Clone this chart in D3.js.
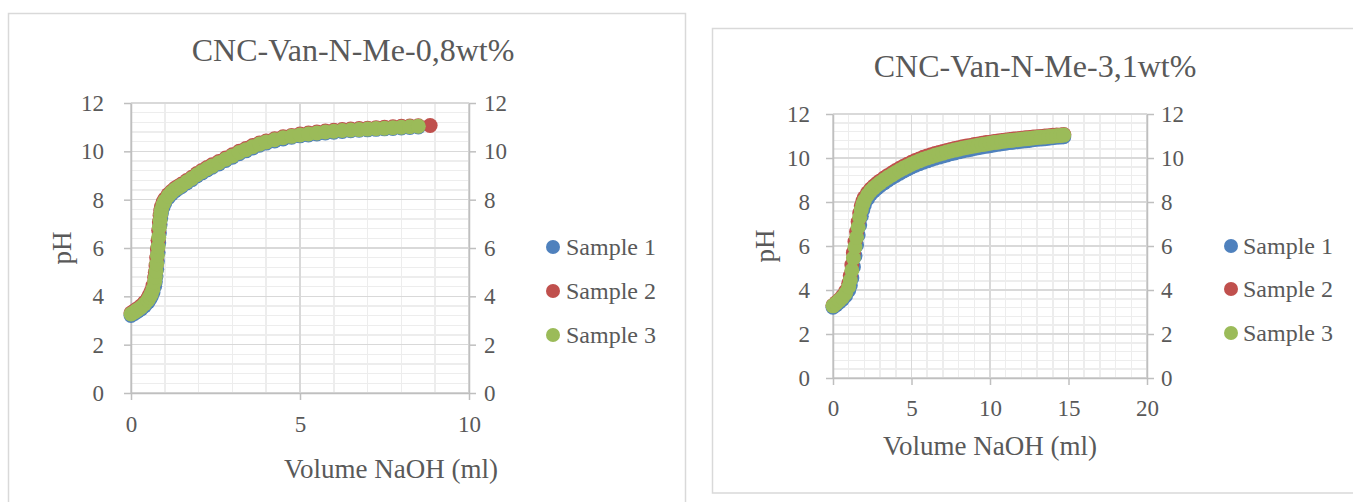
<!DOCTYPE html>
<html>
<head>
<meta charset="utf-8">
<script src="https://cdn.jsdelivr.net/npm/d3@7"></script>
<style>
  body { margin: 0; background: #fff; }
  svg { display: block; }
  text { font-family: "Liberation Serif", serif; fill: #595959; }
</style>
</head>
<body>
<svg id="chart" width="1353" height="502"></svg>
<script>
// Shared series info
const seriesNames = ["Sample 1", "Sample 2", "Sample 3"];
const seriesColors = ["#4f81bd", "#c0504d", "#9bbb59"];
const phTicks = [0, 2, 4, 6, 8, 10, 12];

// Titration 1: CNC-Van-N-Me-0,8wt%
const titleA = "CNC-Van-N-Me-0,8wt%";
const volTicksA = [0, 5, 10];
const volumeA = [0, 0.1, 0.2, 0.3, 0.4, 0.5, 0.55, 0.6, 0.65, 0.7,
  0.72, 0.74, 0.76, 0.78, 0.8, 0.82, 0.84, 0.86, 0.88, 0.9,
  0.95, 1.0, 1.1, 1.2, 1.3, 1.4, 1.5, 1.65, 1.8, 1.95,
  2.1, 2.25, 2.4, 2.6, 2.8, 3.0, 3.2, 3.4, 3.6, 3.8,
  4.0, 4.25, 4.5, 4.75, 5.0, 5.25, 5.5, 5.75, 6.0, 6.25,
  6.5, 6.75, 7.0, 7.25, 7.5, 7.75, 8.0, 8.25, 8.5, 8.85];
const phA1 = [3.21, 3.29, 3.38, 3.48, 3.6, 3.76, 3.87, 3.99, 4.16, 4.42,
  4.6, 4.84, 5.12, 5.46, 5.82, 6.22, 6.62, 6.96, 7.24, 7.45,
  7.7, 7.87, 8.08, 8.24, 8.36, 8.46, 8.55, 8.69, 8.83, 8.98,
  9.11, 9.23, 9.34, 9.48, 9.62, 9.76, 9.9, 10.02, 10.14, 10.25,
  10.34, 10.43, 10.51, 10.58, 10.64, 10.68, 10.72, 10.76, 10.79, 10.82,
  10.85, 10.87, 10.89, 10.91, 10.93, 10.95, 10.97, 10.99, 11.01];
const phA2 = [3.31, 3.4, 3.5, 3.61, 3.75, 3.93, 4.06, 4.22, 4.45, 4.78,
  5.0, 5.27, 5.6, 5.96, 6.32, 6.72, 7.08, 7.34, 7.55, 7.7,
  7.9, 8.03, 8.21, 8.35, 8.47, 8.56, 8.65, 8.79, 8.93, 9.08,
  9.21, 9.33, 9.44, 9.58, 9.72, 9.86, 10.0, 10.12, 10.24, 10.34,
  10.43, 10.52, 10.6, 10.66, 10.72, 10.76, 10.8, 10.84, 10.87, 10.9,
  10.92, 10.94, 10.96, 10.98, 11.0, 11.02, 11.04, 11.05, 11.06, 11.07];
const phA3 = [3.27, 3.35, 3.45, 3.55, 3.68, 3.85, 3.97, 4.1, 4.3, 4.6,
  4.8, 5.05, 5.35, 5.7, 6.05, 6.45, 6.85, 7.15, 7.4, 7.58,
  7.8, 7.95, 8.15, 8.3, 8.42, 8.51, 8.6, 8.74, 8.88, 9.03,
  9.16, 9.28, 9.39, 9.53, 9.67, 9.81, 9.95, 10.07, 10.19, 10.3,
  10.39, 10.48, 10.56, 10.62, 10.68, 10.72, 10.76, 10.8, 10.83, 10.86,
  10.88, 10.9, 10.92, 10.94, 10.96, 10.98, 11.0, 11.02, 11.04];

// Titration 2: CNC-Van-N-Me-3,1wt%
const titleB = "CNC-Van-N-Me-3,1wt%";
const volTicksB = [0, 5, 10, 15, 20];
const volumeB = [0, 0.2, 0.4, 0.6, 0.8, 1.0, 1.1, 1.2, 1.3, 1.4, 1.5, 1.6, 1.7, 1.8, 1.9, 2.0, 2.2, 2.4, 2.6, 2.8, 3.0,
  3.25, 3.5, 3.75, 4.0, 4.25, 4.5, 4.75, 5.0, 5.25, 5.5, 5.75, 6.0, 6.25, 6.5, 6.75, 7.0, 7.25, 7.5, 7.75, 8.0,
  8.25, 8.5, 8.75, 9.0, 9.25, 9.5, 9.75, 10.0, 10.25, 10.5, 10.75, 11.0, 11.25, 11.5, 11.75, 12.0, 12.25, 12.5, 12.75,
  13.0, 13.25, 13.5, 13.75, 14.0, 14.25, 14.5, 14.7];
const phB1 = [3.22, 3.32, 3.44, 3.57, 3.74, 3.98, 4.2, 4.55, 5.05, 5.55, 6.05, 6.5, 6.95, 7.35, 7.65, 7.88, 8.15, 8.35, 8.5, 8.63, 8.74,
  8.87, 8.99, 9.1, 9.21, 9.31, 9.41, 9.5, 9.59, 9.67, 9.74, 9.81, 9.87, 9.93, 9.99, 10.04, 10.09, 10.14, 10.19, 10.23, 10.28,
  10.32, 10.36, 10.39, 10.43, 10.47, 10.5, 10.53, 10.56, 10.59, 10.62, 10.65, 10.67, 10.7, 10.72, 10.74, 10.76, 10.78, 10.8, 10.83,
  10.85, 10.86, 10.88, 10.9, 10.92, 10.94, 10.95, 10.97];
const phB2 = [3.3, 3.43, 3.56, 3.72, 3.94, 4.3, 4.65, 5.15, 5.7, 6.2, 6.65, 7.1, 7.5, 7.82, 8.04, 8.2, 8.42, 8.59, 8.73, 8.85, 8.96,
  9.09, 9.21, 9.32, 9.43, 9.53, 9.63, 9.72, 9.81, 9.89, 9.96, 10.03, 10.09, 10.15, 10.2, 10.25, 10.3, 10.34, 10.39, 10.43, 10.47,
  10.51, 10.54, 10.57, 10.61, 10.64, 10.67, 10.7, 10.72, 10.75, 10.77, 10.8, 10.82, 10.84, 10.86, 10.88, 10.9, 10.92, 10.93, 10.95,
  10.97, 10.98, 11.0, 11.01, 11.03, 11.04, 11.05, 11.07];
const phB3 = [3.28, 3.4, 3.52, 3.66, 3.85, 4.15, 4.45, 4.9, 5.45, 5.95, 6.4, 6.85, 7.3, 7.65, 7.9, 8.08, 8.32, 8.5, 8.64, 8.76, 8.87,
  9.0, 9.12, 9.23, 9.34, 9.44, 9.54, 9.63, 9.72, 9.8, 9.87, 9.94, 10.0, 10.06, 10.12, 10.17, 10.22, 10.27, 10.32, 10.36, 10.4,
  10.44, 10.48, 10.51, 10.55, 10.58, 10.61, 10.64, 10.67, 10.7, 10.72, 10.75, 10.77, 10.79, 10.81, 10.83, 10.85, 10.87, 10.89, 10.91,
  10.93, 10.94, 10.96, 10.98, 10.99, 11.01, 11.02, 11.04];

const svg = d3.select("#chart");

const panels = [
  {
    title: titleA, volume: volumeA, series: [phA1, phA2, phA3], volTicks: volTicksA, xMax: 10,
    box: { x: 8.5, y: 13.5, w: 677, h: 520 },
    plot: { l: 131, r: 469, t: 103, b: 393 },
    titleX: 353, titleY: 61, yTitleX: 71, xTitleX: 391, xTitleY: 478,
    leftPad: 20, rightPad: 8, bottomPad: 16,
    legend: { mx: 553, tx: 566, ys: [247, 291, 335] }
  },
  {
    title: titleB, volume: volumeB, series: [phB1, phB2, phB3], volTicks: volTicksB, xMax: 20,
    box: { x: 712.5, y: 28.5, w: 660, h: 464.5 },
    plot: { l: 833, r: 1147, t: 114, b: 378 },
    titleX: 1035, titleY: 77, yTitleX: 774, xTitleX: 990, xTitleY: 455,
    leftPad: 16, rightPad: 7, bottomPad: 15,
    legend: { mx: 1231, tx: 1243, ys: [246, 289, 333] }
  }
];

panels.forEach(p => {
  const g = svg.append("g");
  const { l, r, t, b } = p.plot;

  // chart frame
  g.append("rect")
    .attr("x", p.box.x).attr("y", p.box.y)
    .attr("width", p.box.w).attr("height", p.box.h)
    .attr("fill", "#fff").attr("stroke", "#d9d9d9").attr("stroke-width", 1.5);

  const x = d3.scaleLinear().domain([0, p.xMax]).range([l, r]);
  const y = d3.scaleLinear().domain([0, 12]).range([b, t]);

  // minor gridlines
  const grid = g.append("g").attr("shape-rendering", "crispEdges");
  grid.selectAll(".vminor").data(d3.range(1, p.xMax, 1))
    .join("line")
    .attr("x1", d => x(d)).attr("x2", d => x(d))
    .attr("y1", t).attr("y2", b)
    .attr("stroke", "#ededed").attr("stroke-width", 1.5);
  grid.selectAll(".hminor").data(d3.range(0.4, 12, 0.4))
    .join("line")
    .attr("x1", l).attr("x2", r)
    .attr("y1", d => y(d)).attr("y2", d => y(d))
    .attr("stroke", "#ededed").attr("stroke-width", 1.5);
  // major gridlines
  grid.selectAll(".vmajor").data(p.volTicks)
    .join("line")
    .attr("x1", d => x(d)).attr("x2", d => x(d))
    .attr("y1", t).attr("y2", b)
    .attr("stroke", "#d9d9d9").attr("stroke-width", 1.5);
  grid.selectAll(".hmajor").data(phTicks)
    .join("line")
    .attr("x1", l).attr("x2", r)
    .attr("y1", d => y(d)).attr("y2", d => y(d))
    .attr("stroke", "#d9d9d9").attr("stroke-width", 1.5);

  // axes
  const styleAxis = sel => {
    sel.selectAll("path").attr("stroke", "#bfbfbf").attr("stroke-width", 1.5);
    sel.selectAll("line").attr("stroke", "#bfbfbf").attr("stroke-width", 1.5);
    sel.selectAll("text").attr("font-size", 23).attr("fill", "#595959")
      .attr("font-family", "Liberation Serif, serif");
  };
  g.append("g").attr("transform", `translate(${l},0)`)
    .call(d3.axisLeft(y).tickValues(phTicks).tickSize(7).tickSizeOuter(0).tickPadding(p.leftPad))
    .call(styleAxis);
  g.append("g").attr("transform", `translate(${r},0)`)
    .call(d3.axisRight(y).tickValues(phTicks).tickSize(7).tickSizeOuter(0).tickPadding(p.rightPad))
    .call(styleAxis);
  g.append("g").attr("transform", `translate(0,${b})`)
    .call(d3.axisBottom(x).tickValues(p.volTicks).tickSize(7).tickSizeOuter(0).tickPadding(p.bottomPad))
    .call(styleAxis);

  // data markers: Sample 1, then 2, then 3 on top
  p.series.forEach((ph, i) => {
    const pts = ph.map((v, k) => [p.volume[k], v]);
    g.append("g").selectAll("circle").data(pts)
      .join("circle")
      .attr("cx", d => x(d[0])).attr("cy", d => y(d[1]))
      .attr("r", 7.5)
      .attr("fill", seriesColors[i]);
  });

  // titles
  g.append("text")
    .attr("x", p.titleX).attr("y", p.titleY)
    .attr("text-anchor", "middle").attr("font-size", 32)
    .text(p.title);
  g.append("text")
    .attr("transform", `translate(${p.yTitleX},${(t + b) / 2}) rotate(-90)`)
    .attr("text-anchor", "middle").attr("font-size", 27)
    .text("pH");
  g.append("text")
    .attr("x", p.xTitleX).attr("y", p.xTitleY)
    .attr("text-anchor", "middle").attr("font-size", 27)
    .text("Volume NaOH (ml)");

  // legend
  const lg = g.append("g");
  seriesNames.forEach((name, i) => {
    lg.append("circle")
      .attr("cx", p.legend.mx).attr("cy", p.legend.ys[i]).attr("r", 7)
      .attr("fill", seriesColors[i]);
    lg.append("text")
      .attr("x", p.legend.tx).attr("y", p.legend.ys[i])
      .attr("dy", "0.35em").attr("font-size", 24)
      .text(name);
  });
});
</script>
</body>
</html>
